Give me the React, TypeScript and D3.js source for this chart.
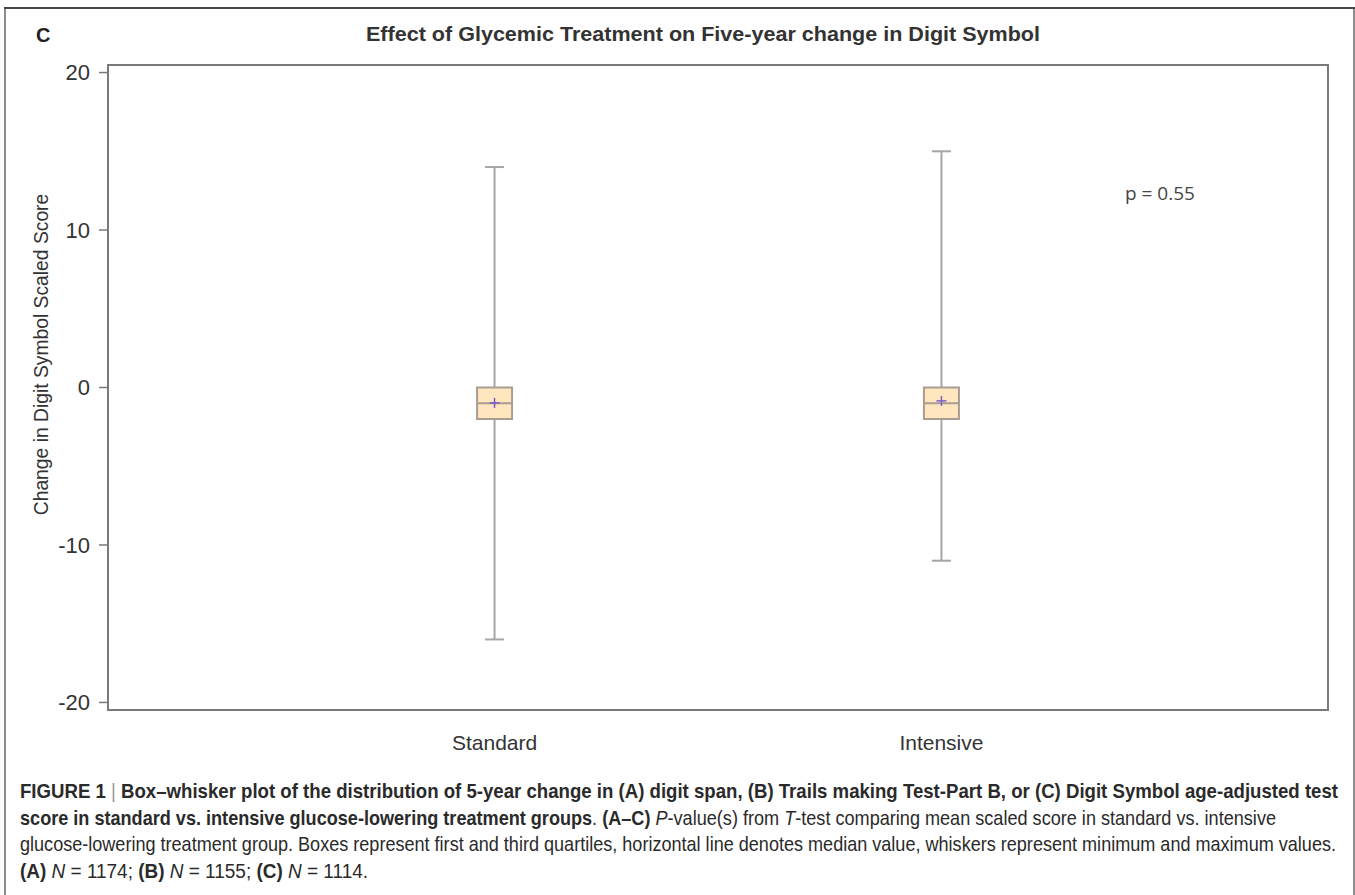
import React from "react";
import * as d3 from "d3";

// box-whisker summary
const groups = ["Standard", "Intensive"];
const mins = [-16, -11];
const q1s = [-2, -2];
const medians = [-1, -1];
const q3s = [0, 0];
const maxs = [14, 15];
const means = [-0.98, -0.85];
const yTicks = [-20, -10, 0, 10, 20];
const pLabel = "p = 0.55";

const W = 1355;
const H = 895;

const App = () => {
  const left = 108, right = 1328, top = 65, bottom = 710;

  const x = d3.scalePoint<string>().domain(groups).range([left, right]).padding(0.865);
  const y = d3.scaleLinear().domain([-20.48, 20.48]).range([bottom, top]);

  const boxW = 35;
  const capW = 19;
  const sans = "'Liberation Sans', Arial, sans-serif";
  // caption glyphs are a bit taller than wide in the source
  const cap = (yy: number) => `translate(20, ${yy}) scale(1, 1.09)`;

  return (
    <svg width={W} height={H} style={{ position: "absolute", left: 0, top: 0, background: "#fff" }}>
      {/* figure frame */}
      <line x1={5} x2={5} y1={8} y2={H + 5} stroke="#8c8c8c" strokeWidth={2} />
      <line x1={1354} x2={1354} y1={8} y2={H + 5} stroke="#8c8c8c" strokeWidth={2} />
      <line x1={4} x2={1355} y1={8} y2={8} stroke="#444" strokeWidth={2} />

      <text x={36} y={42} fontFamily={sans} fontWeight="bold" fontSize={20} fill="#222">C</text>
      <text x={366} y={41} textLength={674} lengthAdjust="spacingAndGlyphs" fontFamily={sans} fontWeight="bold" fontSize={20} fill="#333">
        Effect of Glycemic Treatment on Five-year change in Digit Symbol
      </text>

      {/* plot area */}
      <rect x={left} y={top} width={right - left} height={bottom - top} fill="none" stroke="#7a7a7a" strokeWidth={2} />

      {yTicks.map(t => (
        <g key={t}>
          <line x1={left - 9} x2={left} y1={y(t)} y2={y(t)} stroke="#7a7a7a" strokeWidth={1.5} />
          <text x={left - 18} y={y(t)} dy="0.36em" textAnchor="end" fontFamily={sans} fontSize={22} fill="#333">
            {t}
          </text>
        </g>
      ))}

      <text
        transform={`translate(48, ${(top + bottom) / 2 - 33}) rotate(-90)`}
        textAnchor="middle"
        fontFamily={sans}
        fontSize={19.3}
        fill="#333"
      >
        Change in Digit Symbol Scaled Score
      </text>

      {groups.map((g, i) => {
        const cx = x(g) as number;
        return (
          <g key={g}>
            <line x1={cx} x2={cx} y1={y(maxs[i])} y2={y(q3s[i])} stroke="#a6a6a6" strokeWidth={2} />
            <line x1={cx} x2={cx} y1={y(q1s[i])} y2={y(mins[i])} stroke="#a6a6a6" strokeWidth={2} />
            <line x1={cx - capW / 2} x2={cx + capW / 2} y1={y(maxs[i])} y2={y(maxs[i])} stroke="#a6a6a6" strokeWidth={2} />
            <line x1={cx - capW / 2} x2={cx + capW / 2} y1={y(mins[i])} y2={y(mins[i])} stroke="#a6a6a6" strokeWidth={2} />
            <rect
              x={cx - boxW / 2}
              y={y(q3s[i])}
              width={boxW}
              height={y(q1s[i]) - y(q3s[i])}
              fill="#ffe6bf"
              stroke="#a89d90"
              strokeWidth={2}
            />
            <line x1={cx - boxW / 2} x2={cx + boxW / 2} y1={y(medians[i])} y2={y(medians[i])} stroke="#a89d90" strokeWidth={2} />
            <line x1={cx - 5} x2={cx + 5} y1={y(means[i])} y2={y(means[i])} stroke="#7b5cc8" strokeWidth={1.5} />
            <line x1={cx} x2={cx} y1={y(means[i]) - 5} y2={y(means[i]) + 5} stroke="#7b5cc8" strokeWidth={1.5} />
            <text x={cx} y={750} textAnchor="middle" fontFamily={sans} fontSize={21} fill="#333">
              {g}
            </text>
          </g>
        );
      })}

      <text x={1125} y={200} fontFamily="'Open Sans', sans-serif" fontSize={19} fill="#444">
        {pLabel}
      </text>

      {/* caption */}
      <g fontFamily={sans} fontSize={18} fill="#2a2a2a">
        <text transform={cap(798)} textLength={1318} lengthAdjust="spacingAndGlyphs">
          <tspan fontWeight="bold">FIGURE 1 </tspan>
          <tspan fill="#999">|</tspan>
          <tspan fontWeight="bold"> Box–whisker plot of the distribution of 5-year change in (A) digit span, (B) Trails making Test-Part B, or (C) Digit Symbol age-adjusted test</tspan>
        </text>
        <text transform={cap(824.5)} textLength={1256} lengthAdjust="spacingAndGlyphs">
          <tspan fontWeight="bold">score in standard vs. intensive glucose-lowering treatment groups</tspan>
          <tspan>. </tspan>
          <tspan fontWeight="bold">(A–C)</tspan>
          <tspan> </tspan>
          <tspan fontStyle="italic">P</tspan>
          <tspan>-value(s) from </tspan>
          <tspan fontStyle="italic">T</tspan>
          <tspan>-test comparing mean scaled score in standard vs. intensive</tspan>
        </text>
        <text transform={cap(851)} textLength={1316} lengthAdjust="spacingAndGlyphs">
          glucose-lowering treatment group. Boxes represent first and third quartiles, horizontal line denotes median value, whiskers represent minimum and maximum values.
        </text>
        <text transform={cap(877.5)} textLength={348} lengthAdjust="spacingAndGlyphs">
          <tspan fontWeight="bold">(A)</tspan>
          <tspan> </tspan>
          <tspan fontStyle="italic">N</tspan>
          <tspan> = 1174; </tspan>
          <tspan fontWeight="bold">(B)</tspan>
          <tspan> </tspan>
          <tspan fontStyle="italic">N</tspan>
          <tspan> = 1155; </tspan>
          <tspan fontWeight="bold">(C)</tspan>
          <tspan> </tspan>
          <tspan fontStyle="italic">N</tspan>
          <tspan> = 1114.</tspan>
        </text>
      </g>
    </svg>
  );
};

export default App;
